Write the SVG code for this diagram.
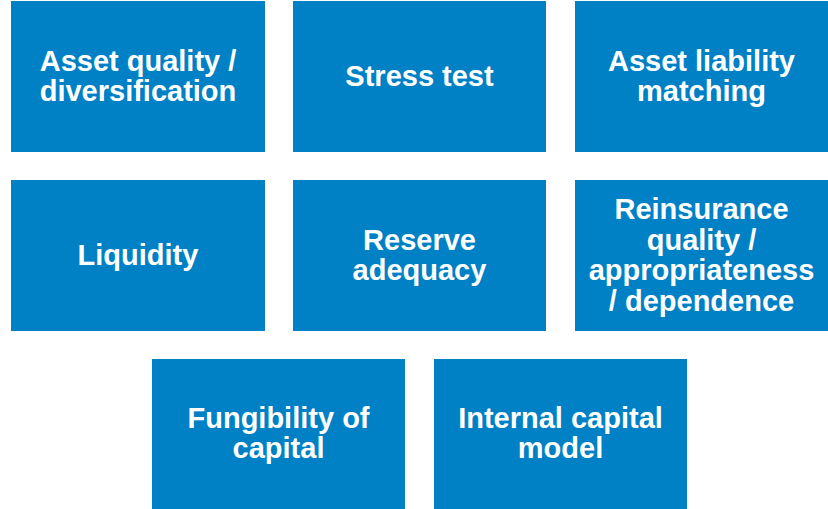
<svg xmlns="http://www.w3.org/2000/svg" width="828" height="509" viewBox="0 0 828 509">
  <style>
    .box { fill: #0081C6; }
    .lbl { fill: #FFFFFF; font-family: "Liberation Sans", Arial, sans-serif; font-weight: bold; font-size: 29px; text-anchor: middle; }
  </style>
  <rect width="828" height="509" fill="#FFFFFF"/>

  <g id="asset-quality">
    <rect class="box" x="11" y="1" width="254" height="151"/>
    <text class="lbl" x="138" y="71">Asset quality /</text>
    <text class="lbl" x="138" y="101">diversification</text>
  </g>
  <g id="stress-test">
    <rect class="box" x="293" y="1" width="253" height="151"/>
    <text class="lbl" x="419.5" y="86">Stress test</text>
  </g>
  <g id="asset-liability">
    <rect class="box" x="575" y="1" width="253" height="151"/>
    <text class="lbl" x="701.5" y="71">Asset liability</text>
    <text class="lbl" x="701.5" y="101">matching</text>
  </g>

  <g id="liquidity">
    <rect class="box" x="11" y="180" width="254" height="151"/>
    <text class="lbl" x="138" y="265">Liquidity</text>
  </g>
  <g id="reserve-adequacy">
    <rect class="box" x="293" y="180" width="253" height="151"/>
    <text class="lbl" x="419.5" y="250">Reserve</text>
    <text class="lbl" x="419.5" y="280">adequacy</text>
  </g>
  <g id="reinsurance">
    <rect class="box" x="575" y="180" width="253" height="151"/>
    <text class="lbl" x="701.5" y="219">Reinsurance</text>
    <text class="lbl" x="701.5" y="249.5">quality /</text>
    <text class="lbl" x="701.5" y="280">appropriateness</text>
    <text class="lbl" x="701.5" y="310.5">/ dependence</text>
  </g>

  <g id="fungibility">
    <rect class="box" x="152" y="359" width="253" height="150"/>
    <text class="lbl" x="278.5" y="428">Fungibility of</text>
    <text class="lbl" x="278.5" y="458">capital</text>
  </g>
  <g id="internal-model">
    <rect class="box" x="434" y="359" width="253" height="150"/>
    <text class="lbl" x="560.5" y="428">Internal capital</text>
    <text class="lbl" x="560.5" y="458">model</text>
  </g>

  <g id="connectors"/>
</svg>
